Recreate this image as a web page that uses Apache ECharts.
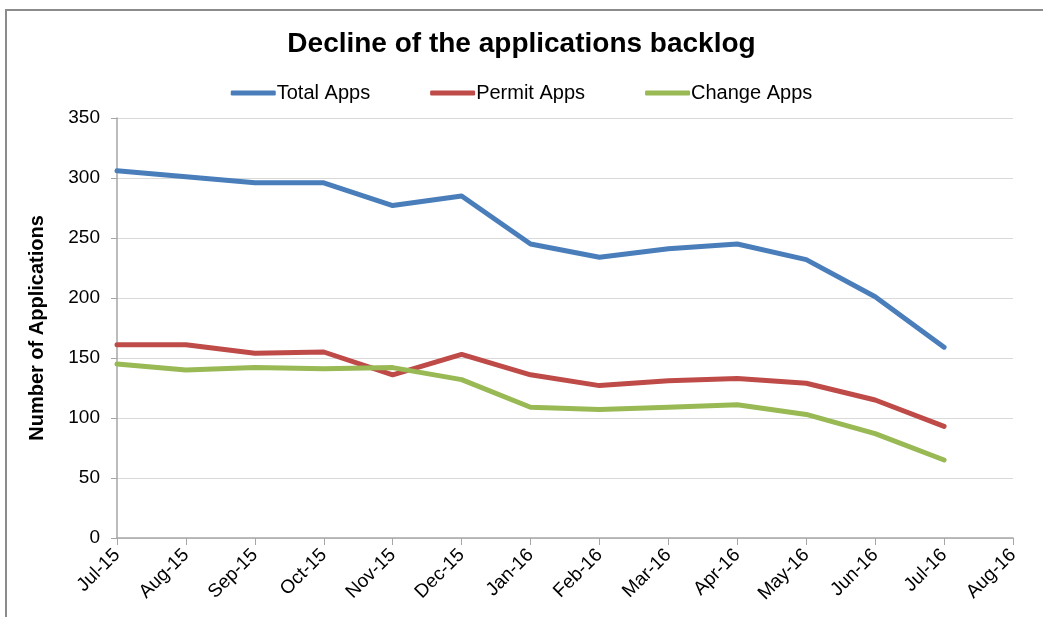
<!DOCTYPE html>
<html>
<head>
<meta charset="utf-8">
<script src="https://cdn.jsdelivr.net/npm/echarts@6/dist/echarts.min.js"></script>
<style>
  html, body { margin: 0; padding: 0; background: #fff; }
  .frame {
    position: absolute; left: 5px; top: 9px; width: 1100px; height: 700px;
    border: 2px solid #8c8c8c; box-sizing: border-box;
  }
  #main { position: absolute; left: 0; top: 0; width: 1043px; height: 617px; }
</style>
</head>
<body>
<div class="frame"></div>
<div id="main"></div>
<script>
// months on the x axis (Aug-16 has no data)
const months = ['Jul-15', 'Aug-15', 'Sep-15', 'Oct-15', 'Nov-15', 'Dec-15', 'Jan-16',
  'Feb-16', 'Mar-16', 'Apr-16', 'May-16', 'Jun-16', 'Jul-16', 'Aug-16'];
const totalApps = [306, 301, 296, 296, 277, 285, 245, 234, 241, 245, 232, 201, 159];
const permitApps = [161, 161, 154, 155, 136, 153, 136, 127, 131, 133, 129, 115, 93];
const changeApps = [145, 140, 142, 141, 142, 132, 109, 107, 109, 111, 103, 87, 65];

const chart = echarts.init(document.getElementById('main'));
const font = 'Liberation Sans, Arial, sans-serif';

function lineSeries(name, data, color) {
  return {
    name: name,
    type: 'line',
    data: data,
    showSymbol: false,
    symbol: 'none',
    lineStyle: { width: 5, color: color, cap: 'round', join: 'round' },
    itemStyle: { color: color },
    animation: false
  };
}

chart.setOption({
  title: {
    text: 'Decline of the applications backlog',
    left: 'center',
    top: 25,
    textStyle: { fontFamily: font, fontSize: 28, fontWeight: 'bold', color: '#000' }
  },
  legend: {
    top: 78,
    left: 'center',
    itemWidth: 45,
    itemHeight: 5,
    itemGap: 60,
    icon: 'roundRect',
    textStyle: { fontFamily: font, fontSize: 20, color: '#000', padding: [0, 0, 0, -4] }
  },
  grid: { left: 117, right: 30, top: 118, bottom: 79 },
  xAxis: {
    type: 'category',
    data: months,
    boundaryGap: false,
    axisLine: { lineStyle: { color: '#a6a6a6', width: 1.5 } },
    axisTick: { show: true, length: 7, lineStyle: { color: '#a6a6a6' } },
    axisLabel: {
      interval: 0, rotate: 45, margin: 14,
      fontFamily: font, fontSize: 19, color: '#000'
    }
  },
  yAxis: {
    type: 'value',
    min: 0, max: 350, interval: 50,
    name: 'Number of Applications',
    nameLocation: 'middle',
    nameGap: 70,
    nameTextStyle: { fontFamily: font, fontSize: 20, fontWeight: 'bold', color: '#000' },
    axisLine: { show: true, lineStyle: { color: '#a6a6a6', width: 1.5 } },
    axisTick: { show: true, inside: false, length: 6, lineStyle: { color: '#a6a6a6' } },
    axisLabel: { fontFamily: font, fontSize: 19, color: '#000', margin: 17 },
    splitLine: { lineStyle: { color: '#d9d9d9', width: 1 } }
  },
  series: [
    lineSeries('Total Apps', totalApps, '#4a7ebb'),
    lineSeries('Permit Apps', permitApps, '#be4b48'),
    lineSeries('Change Apps', changeApps, '#98b954')
  ]
});
</script>
</body>
</html>
